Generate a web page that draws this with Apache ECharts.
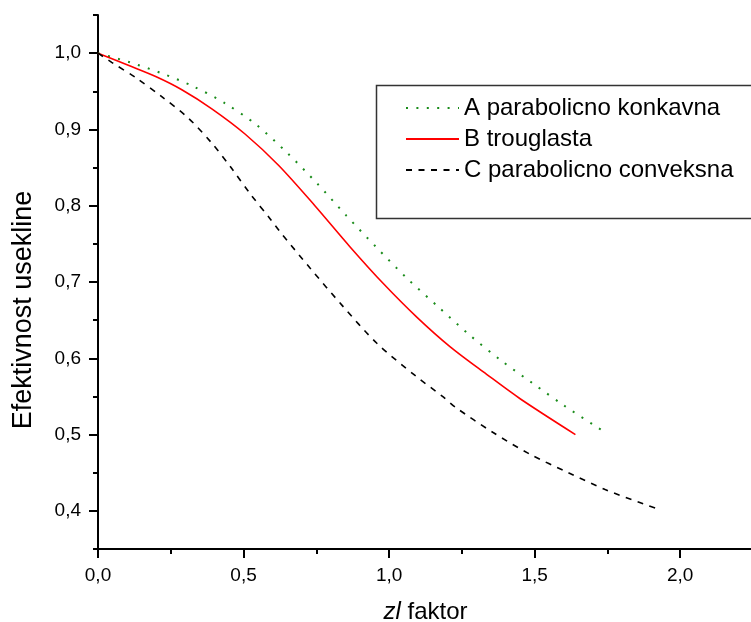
<!DOCTYPE html>
<html>
<head>
<meta charset="utf-8">
<script src="https://cdn.jsdelivr.net/npm/echarts@6/dist/echarts.min.js"></script>
<style>html,body{margin:0;padding:0;background:#fff}#c{width:751px;height:622px}</style>
</head>
<body>
<div id="c"></div>
<script>
// Series names
const seriesNames = ['A parabolicno konkavna', 'B trouglasta', 'C parabolicno conveksna'];
// A: parabolicno konkavna (green dotted)
const aX = [0, 0.109, 0.216, 0.324, 0.433, 0.541, 0.648, 0.753, 0.853, 0.955, 1.061, 1.170, 1.278, 1.385, 1.494, 1.601, 1.709, 1.746];
const aY = [1.0, 0.988, 0.974, 0.957, 0.935, 0.907, 0.870, 0.829, 0.787, 0.746, 0.705, 0.667, 0.630, 0.597, 0.567, 0.538, 0.511, 0.502];
// B: trouglasta (red solid)
const bX = [0, 0.104, 0.2, 0.288, 0.391, 0.505, 0.62, 0.745, 0.866, 0.98, 1.095, 1.21, 1.335, 1.45, 1.64];
const bY = [1.0, 0.984, 0.969, 0.952, 0.927, 0.894, 0.853, 0.800, 0.746, 0.698, 0.654, 0.615, 0.579, 0.547, 0.50];
// C: parabolicno conveksna (black dashed)
const cX = [0, 0.047, 0.133, 0.219, 0.310, 0.391, 0.459, 0.522, 0.591, 0.625, 0.729, 0.837, 0.957, 1.094, 1.187, 1.227, 1.356, 1.485, 1.616, 1.742, 1.874, 1.926];
const cY = [1.0, 0.988, 0.967, 0.943, 0.915, 0.882, 0.849, 0.816, 0.783, 0.766, 0.718, 0.670, 0.620, 0.576, 0.549, 0.536, 0.503, 0.474, 0.450, 0.428, 0.409, 0.402];
// Axis ticks
const xMajorTicks = [0, 0.5, 1.0, 1.5, 2.0];
const xMinorTicks = [0.25, 0.75, 1.25, 1.75, 2.25];
const yMajorTicks = [0.4, 0.5, 0.6, 0.7, 0.8, 0.9, 1.0];
const yMinorTicks = [0.35, 0.45, 0.55, 0.65, 0.75, 0.85, 0.95, 1.05];
const xRange = [0, 2.25];
const yRange = [0.35, 1.05];
const xTitle = '{i|zl} faktor';
const yTitle = 'Efektivnost usekline';

const zip = (xs, ys) => xs.map((x, i) => [x, ys[i]]);
const fmt = v => v.toFixed(1).replace('.', ',');
const FONT = '"Liberation Sans", Arial, sans-serif';

const chart = echarts.init(document.getElementById('c'), null, {renderer: 'canvas'});
const axisLine = {show: true, lineStyle: {color: '#000', width: 2}};
chart.setOption({
  animation: false,
  backgroundColor: '#fff',
  grid: {left: 98, top: 15, bottom: 73, right: -2, containLabel: false, outerBoundsMode: 'none'},
  xAxis: [{
    type: 'value', min: xRange[0], max: xRange[1],
    axisLine: axisLine,
    axisTick: {show: true, length: 9, lineStyle: {color: '#000', width: 2}, customValues: xMajorTicks},
    axisLabel: {show: true, customValues: xMajorTicks, formatter: fmt, fontSize: 19, color: '#000', fontFamily: FONT, margin: 17},
    splitLine: {show: false},
    name: xTitle, nameLocation: 'middle', nameGap: 51,
    nameTextStyle: {fontSize: 24, color: '#000', fontFamily: FONT, rich: {i: {fontSize: 24, fontStyle: 'italic', fontFamily: FONT, color: '#000'}}}
  }, {
    type: 'value', min: xRange[0], max: xRange[1], position: 'bottom',
    axisLine: {show: false},
    axisTick: {show: true, length: 5, lineStyle: {color: '#000', width: 2}, customValues: xMinorTicks},
    axisLabel: {show: false}, splitLine: {show: false}
  }],
  yAxis: [{
    type: 'value', min: yRange[0], max: yRange[1],
    axisLine: axisLine,
    axisTick: {show: true, length: 9, lineStyle: {color: '#000', width: 2}, customValues: yMajorTicks},
    axisLabel: {show: true, customValues: yMajorTicks, formatter: fmt, fontSize: 19, color: '#000', fontFamily: FONT, margin: 17},
    splitLine: {show: false},
    name: yTitle, nameLocation: 'middle', nameGap: 61, nameRotate: 90,
    nameTextStyle: {fontSize: 27, color: '#000', fontFamily: FONT, padding: [0, 56, 0, 0]}
  }, {
    type: 'value', min: yRange[0], max: yRange[1], position: 'left',
    axisLine: {show: false},
    axisTick: {show: true, length: 5, lineStyle: {color: '#000', width: 2}, customValues: yMinorTicks},
    axisLabel: {show: false}, splitLine: {show: false}
  }],
  legend: {
    orient: 'vertical', left: 400, top: 91,
    itemWidth: 53, itemHeight: 24, itemGap: 7,
    itemStyle: {opacity: 0},
    textStyle: {fontSize: 24, color: '#000', fontFamily: FONT},
    data: seriesNames
  },
  graphic: [{
    type: 'rect', left: 374, top: 83,
    shape: {width: 376, height: 133},
    style: {fill: 'none', stroke: '#333', lineWidth: 1.5},
    z: 10, silent: true
  }],
  series: [{
    name: seriesNames[0], type: 'line', data: zip(aX, aY), symbol: 'none', smooth: 0.3,
    lineStyle: {color: '#1a8c1a', width: 2, type: [2, 8.4]}, itemStyle: {color: '#1a8c1a'}
  }, {
    name: seriesNames[1], type: 'line', data: zip(bX, bY), symbol: 'none', smooth: 0.3,
    lineStyle: {color: '#ff0000', width: 1.6, type: 'solid'}, itemStyle: {color: '#ff0000'}
  }, {
    name: seriesNames[2], type: 'line', data: zip(cX, cY), symbol: 'none', smooth: 0.3,
    lineStyle: {color: '#000', width: 1.6, type: [6, 6.5]}, itemStyle: {color: '#000'}
  }]
});
</script>
</body>
</html>
